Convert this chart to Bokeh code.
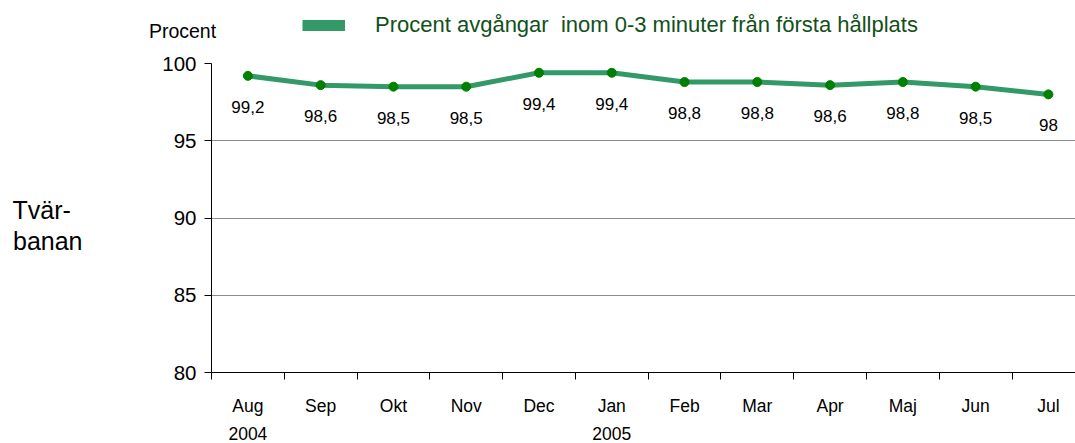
from bokeh.plotting import figure
from bokeh.layouts import column, row
from bokeh.models import FixedTicker, Label, Legend, LegendItem, Range1d, LinearAxis
from bokeh.embed import file_html
from bokeh.resources import INLINE
from bokeh.core.properties import value

# ---- data ----
months = ["Aug", "Sep", "Okt", "Nov", "Dec", "Jan", "Feb", "Mar", "Apr", "Maj", "Jun", "Jul"]
year_labels = ["2004", "", "", "", "", "2005", "", "", "", "", "", ""]
values = [99.2, 98.6, 98.5, 98.5, 99.4, 99.4, 98.8, 98.8, 98.6, 98.8, 98.5, 98.0]
value_labels = ["99,2", "98,6", "98,5", "98,5", "99,4", "99,4", "98,8", "98,8", "98,6", "98,8", "98,5", "98"]
y_ticks = [80, 85, 90, 95, 100]
series_name = "Procent avgångar  inom 0-3 minuter från första hållplats"
y_title = "Procent"
side_title = ["Tvär-", "banan"]

FONT = "Liberation Sans"
LINE_COLOR = "#339966"
MARKER_COLOR = "#008000"
W, H = 1075, 443
TOP_H = 45
LEFT_W = 100
MAIN_H = H - TOP_H
FRAME_TOP, FRAME_BOTTOM = 63, 372   # page pixels

xs = list(range(len(months)))


def blank(fig):
    fig.outline_line_color = None
    fig.xgrid.visible = False
    fig.ygrid.visible = False
    fig.background_fill_color = "white"
    fig.border_fill_color = "white"
    return fig


# ---- top strip: axis title + legend ----
top = blank(figure(width=W, height=TOP_H, x_range=Range1d(0, W), y_range=Range1d(TOP_H, 0),
                   x_axis_type=None, y_axis_type=None,
                   output_backend="svg", toolbar_location=None,
                   min_border=0))
top.add_layout(Label(x=182, y=30, text=y_title, text_align="center", text_baseline="middle",
                     text_font=FONT, text_font_size="19.5px", text_color="black"))
dummy = top.line([float("nan")], [float("nan")], line_color=LINE_COLOR, line_width=11)
legend = Legend(items=[LegendItem(label=series_name, renderers=[dummy])],
                location=(302, 7), orientation="horizontal",
                border_line_color=None, background_fill_alpha=0,
                padding=0, margin=0, glyph_width=43, glyph_height=20,
                label_standoff=30, label_text_font=FONT,
                label_text_font_size="22px", label_text_color="#12501a")
top.add_layout(legend)

# ---- left strip: side title (its frame is aligned with the main frame) ----
left = blank(figure(width=LEFT_W, height=MAIN_H, x_range=Range1d(0, LEFT_W),
                    y_range=Range1d(FRAME_BOTTOM, FRAME_TOP),
                    x_axis_type=None, y_axis_type=None,
                    output_backend="svg", toolbar_location=None,
                    min_border=0))
left.add_layout(Label(x=12, y=209, text=side_title[0], text_align="left", text_baseline="alphabetic",
                      text_font=FONT, text_font_size="25px", text_color="black"))
left.add_layout(Label(x=12.5, y=240, text=side_title[1], text_align="left", text_baseline="alphabetic",
                      text_font=FONT, text_font_size="25px", text_color="black"))

# ---- main chart ----
frame_left = 211 - LEFT_W
x_end = -0.5 + (W - 210.7) / 72.8

p = figure(width=W - LEFT_W, height=MAIN_H,
           x_range=Range1d(-0.5, x_end), y_range=Range1d(80, 100),
           output_backend="svg", toolbar_location=None,
           min_border_left=frame_left, min_border_right=0,
           min_border_top=FRAME_TOP - TOP_H, min_border_bottom=H - FRAME_BOTTOM)
p.outline_line_color = None
p.background_fill_color = "white"
p.border_fill_color = "white"

# x axis (months), ticks between categories
p.xaxis.ticker = FixedTicker(ticks=xs, minor_ticks=[i - 0.5 for i in range(len(months) + 1)])
p.xaxis.major_label_overrides = {i: m for i, m in zip(xs, months)}
p.xaxis.major_tick_line_color = None
p.xaxis.major_tick_out = 7
p.xaxis.major_tick_in = 0
p.xaxis.minor_tick_out = 7
p.xaxis.minor_tick_in = 0
p.xaxis.minor_tick_line_color = "black"
p.xaxis.axis_line_color = "black"
p.xaxis.major_label_text_font = FONT
p.xaxis.major_label_text_font_size = "17.5px"
p.xaxis.major_label_text_color = "black"
p.xaxis.major_label_standoff = 16
p.xgrid.visible = False

# second x axis for the years
year_axis = LinearAxis(ticker=FixedTicker(ticks=[i for i, y in zip(xs, year_labels) if y]),
                       major_label_overrides={i: y for i, y in zip(xs, year_labels) if y},
                       axis_line_color=None, major_tick_line_color=None, minor_tick_line_color=None,
                       major_tick_out=0, major_tick_in=0, minor_tick_out=0, minor_tick_in=0,
                       major_label_standoff=8, major_label_text_font=FONT,
                       major_label_text_font_size="17.5px", major_label_text_color="black")
p.add_layout(year_axis, "below")

# y axis
p.yaxis.ticker = FixedTicker(ticks=y_ticks)
p.yaxis.minor_tick_line_color = None
p.yaxis.major_tick_out = 7
p.yaxis.major_tick_in = 0
p.yaxis.major_tick_line_color = "black"
p.yaxis.axis_line_color = "black"
p.yaxis.major_label_text_font = FONT
p.yaxis.major_label_text_font_size = "20.5px"
p.yaxis.major_label_text_color = "black"
p.yaxis.major_label_standoff = 8
p.ygrid.ticker = FixedTicker(ticks=y_ticks)
p.ygrid.grid_line_color = "#8c8c8c"
p.ygrid.grid_line_width = 1

# series
p.line(xs, values, line_color=LINE_COLOR, line_width=5)
p.scatter(xs, values, size=9, fill_color=MARKER_COLOR, line_color=MARKER_COLOR)
p.text(xs, values, text=value_labels, text_align="center", text_baseline="middle",
       y_offset=31, text_font=value(FONT), text_font_size="17px", text_color="black")

layout = column(top, row(left, p, spacing=0), spacing=0)

open("out.html", "w").write(file_html(layout, INLINE))
